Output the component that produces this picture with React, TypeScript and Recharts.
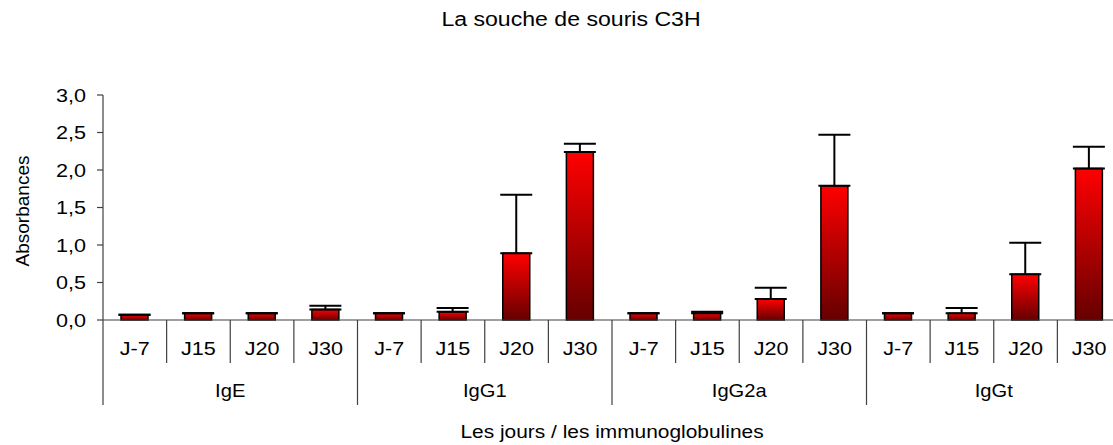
import React from 'react';
import { BarChart, Bar, XAxis, YAxis, ErrorBar } from 'recharts';

// Absorbances par immunoglobuline et par jour
const groups = ['IgE', 'IgG1', 'IgG2a', 'IgGt'];
const days = ['J-7', 'J15', 'J20', 'J30'];
const valuesIgE = [0.07, 0.09, 0.09, 0.14];
const valuesIgG1 = [0.09, 0.11, 0.89, 2.24];
const valuesIgG2a = [0.09, 0.09, 0.28, 1.79];
const valuesIgGt = [0.09, 0.09, 0.61, 2.02];
const errIgE = [0, 0, 0, 0.05];
const errIgG1 = [0, 0.05, 0.78, 0.11];
const errIgG2a = [0, 0.02, 0.15, 0.68];
const errIgGt = [0, 0.07, 0.42, 0.29];
const yTicks = [0, 0.5, 1, 1.5, 2, 2.5, 3];

const allValues = [valuesIgE, valuesIgG1, valuesIgG2a, valuesIgGt];
const allErrors = [errIgE, errIgG1, errIgG2a, errIgGt];

const data = groups.flatMap((g, gi) =>
  days.map((d, di) => ({
    key: `${g}-${d}`,
    day: d,
    group: g,
    value: allValues[gi][di],
    err: [0, allErrors[gi][di]],
  }))
);

const FONT = '"Liberation Sans", Arial, sans-serif';
const LINE = '#404040';

const WideText = ({ x, y, size, sx = 1.2, anchor = 'middle', children }: any) => (
  <text
    transform={`translate(${x},${y}) scale(${sx},1)`}
    textAnchor={anchor}
    fontSize={size}
    fontFamily={FONT}
    fill="#000"
  >
    {children}
  </text>
);

const YTick = (props: any) => {
  const { x, y, payload } = props;
  return (
    <WideText x={x} y={y + 6.5} size={18} anchor="end">
      {Number(payload.value).toFixed(1).replace('.', ',')}
    </WideText>
  );
};

const XTick = (props: any) => {
  const { x, y, payload, index } = props;
  const half = payload.offset || 31.8;
  const row = data[index];
  const first = index % 4 === 0;
  return (
    <g>
      <line x1={x - half} y1={y} x2={x - half} y2={y + (first ? 85 : 43)} stroke={LINE} strokeWidth={1.2} />
      {index === data.length - 1 && (
        <line x1={x + half} y1={y} x2={x + half} y2={y + 85} stroke={LINE} strokeWidth={1.2} />
      )}
      <WideText x={x} y={y + 35} size={18}>
        {row ? row.day : ''}
      </WideText>
      {first && row && (
        <WideText x={x + 3 * half} y={y + 77} size={18} sx={1.12}>
          {row.group}
        </WideText>
      )}
    </g>
  );
};

export default function App() {
  return (
    <div style={{ position: 'absolute', left: 0, top: 0, width: 1113, height: 445, overflow: 'hidden', background: '#fff' }}>
      <BarChart
        width={1140}
        height={445}
        data={data}
        margin={{ top: 95, right: 19, bottom: 0, left: 0 }}
        barCategoryGap={0}
      >
        <defs>
          <linearGradient id="redFade" x1="0" y1="0" x2="0" y2="1">
            <stop offset="0%" stopColor="#ff0000" />
            <stop offset="100%" stopColor="#660000" />
          </linearGradient>
        </defs>
        <YAxis
          width={103}
          domain={[0, 3]}
          ticks={yTicks}
          interval={0}
          axisLine={{ stroke: LINE, strokeWidth: 1.2 }}
          tickLine={{ stroke: LINE, strokeWidth: 1.2 }}
          tickSize={6}
          tickMargin={11}
          tick={<YTick />}
        />
        <XAxis
          dataKey="key"
          height={125}
          interval={0}
          axisLine={{ stroke: LINE, strokeWidth: 1.2 }}
          tickLine={false}
          tickSize={0}
          tickMargin={0}
          tick={<XTick />}
        />
        <Bar
          dataKey="value"
          barSize={27}
          fill="url(#redFade)"
          stroke="#000"
          strokeWidth={1.5}
          isAnimationActive={false}
        >
          <ErrorBar dataKey="err" direction="y" width={16} stroke="#000" strokeWidth={2} isAnimationActive={false} />
        </Bar>
      </BarChart>
      <svg width={1113} height={445} style={{ position: 'absolute', left: 0, top: 0, pointerEvents: 'none' }}>
        <WideText x={571} y={26} size={21} sx={1.1}>
          La souche de souris C3H
        </WideText>
        <text
          transform="translate(29,211) rotate(-90)"
          textAnchor="middle"
          fontSize={19}
          fontFamily={FONT}
          fill="#000"
        >
          Absorbances
        </text>
        <WideText x={612} y={438} size={19} sx={1.1}>
          Les jours / les immunoglobulines
        </WideText>
      </svg>
    </div>
  );
}
